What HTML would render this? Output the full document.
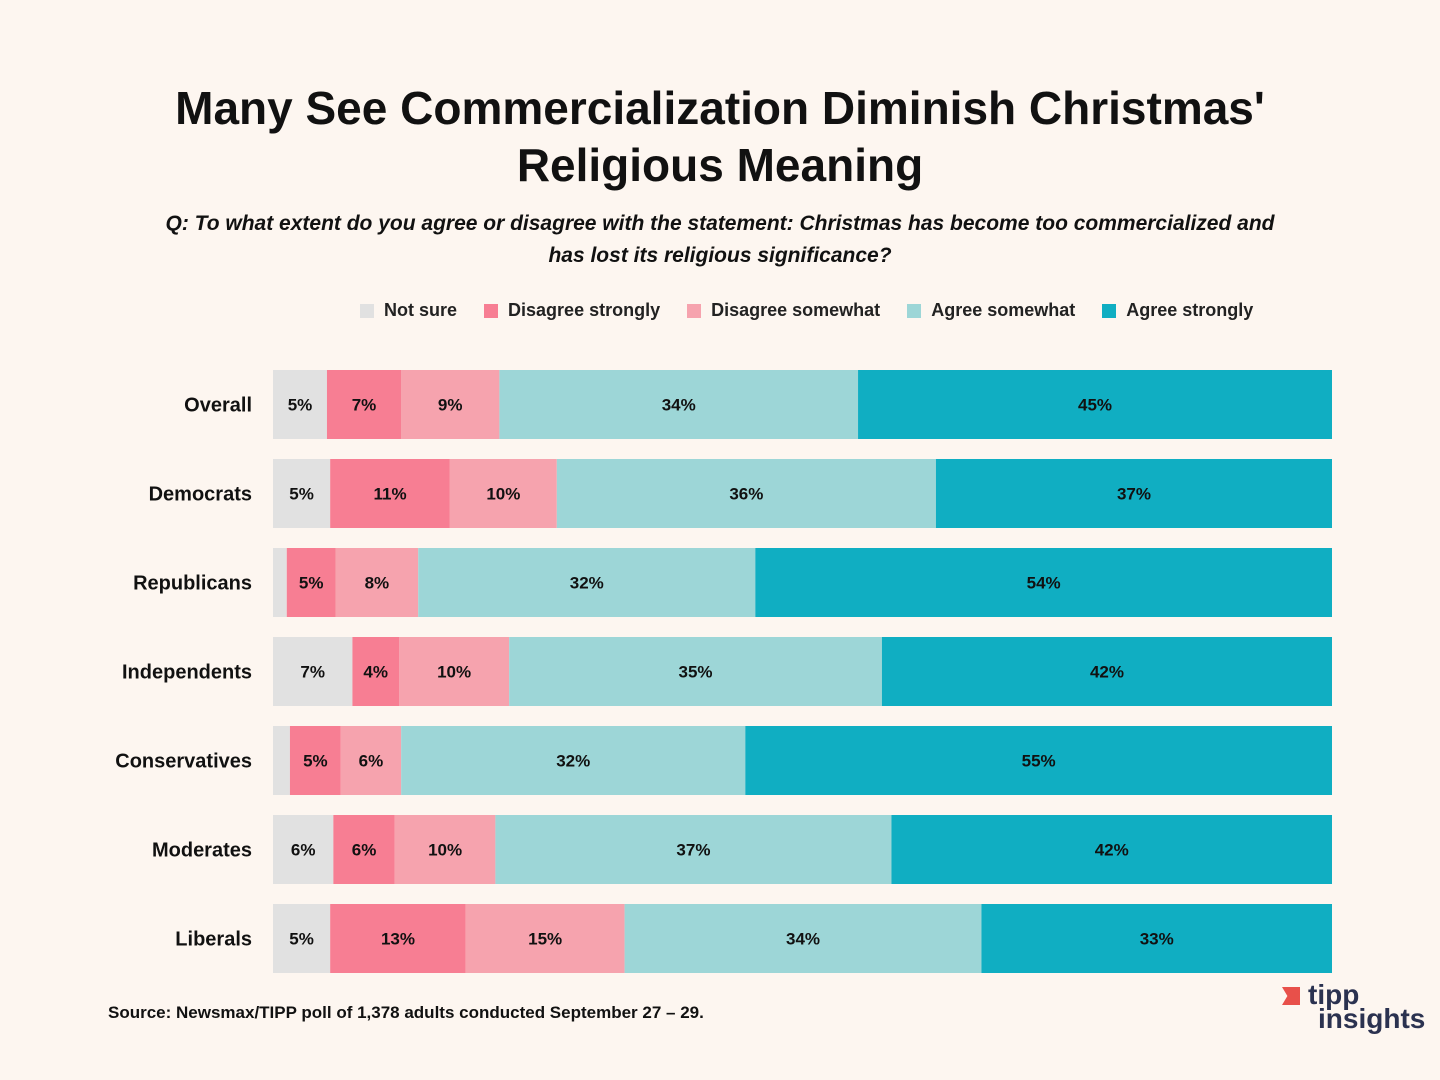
<!DOCTYPE html>
<html><head><meta charset="utf-8"><style>
body{margin:0;width:1440px;height:1080px;background:#fdf6f0;font-family:"Liberation Sans",sans-serif;overflow:hidden;position:relative}
#title{position:absolute;top:80px;left:0;width:1440px;text-align:center;font-size:46px;font-weight:bold;line-height:57px;color:#111}
#sub{position:absolute;top:208px;left:60px;width:1320px;text-align:center;font-size:21px;font-style:italic;font-weight:bold;line-height:32px;color:#111}
#legend{position:absolute;top:300px;left:360px;font-size:18px;font-weight:bold;color:#222;white-space:nowrap}
#legend span.e{margin-right:22px;display:inline-flex;align-items:center}
#legend i{display:inline-block;width:14px;height:14px;margin-right:10px}
#src{position:absolute;top:1003px;left:108px;font-size:17px;font-weight:bold;color:#111}
#logo{position:absolute;top:983px;left:1280px;font-weight:bold;color:#2b3250;line-height:24px}
</style></head><body>
<div id="title">Many See Commercialization Diminish Christmas'<br>Religious Meaning</div>
<div id="sub">Q: To what extent do you agree or disagree with the statement: Christmas has become too commercialized and<br>has lost its religious significance?</div>
<div id="legend">
<span class="e"><i style="background:#e1e1e1"></i>Not sure</span>
<span class="e"><i style="background:#f77e93"></i>Disagree strongly</span>
<span class="e"><i style="background:#f6a3ae"></i>Disagree somewhat</span>
<span class="e"><i style="background:#9dd6d7"></i>Agree somewhat</span>
<span class="e"><i style="background:#10aec2"></i>Agree strongly</span>
</div>
<svg id="chart" width="1440" height="1080" style="position:absolute;left:0;top:0"></svg>
<div id="src">Source: Newsmax/TIPP poll of 1,378 adults conducted September 27 – 29.</div>
<div id="logo">
<div style="font-size:28px;padding-left:28px;position:relative"><span style="position:absolute;left:2px;top:4px;width:18px;height:18px;background:#e8504a;clip-path:polygon(0 0,100% 0,100% 100%,0 100%,30% 50%)"></span>tipp</div>
<div style="font-size:28px;padding-left:38px">insights</div></div>
<script>
const categories=["Overall","Democrats","Republicans","Independents","Conservatives","Moderates","Liberals"];
const notSure=[5.1,5.4,1.3,7.5,1.6,5.7,5.4];
const disagreeStrongly=[7.0,11.3,4.6,4.4,4.8,5.8,12.8];
const disagreeSomewhat=[9.3,10.1,7.8,10.4,5.7,9.5,15.0];
const agreeSomewhat=[33.9,35.8,31.8,35.2,32.5,37.4,33.7];
const agreeStrongly=[44.8,37.4,54.4,42.5,55.4,41.6,33.1];
const labNotSure=["5%","5%","","7%","","6%","5%"];
const labDS=["7%","11%","5%","4%","5%","6%","13%"];
const labDW=["9%","10%","8%","10%","6%","10%","15%"];
const labAW=["34%","36%","32%","35%","32%","37%","34%"];
const labAS=["45%","37%","54%","42%","55%","42%","33%"];
const svg=document.getElementById('chart');const NS='http://www.w3.org/2000/svg';
const X0=273,W=1059,Y0=370,STEP=89,H=69;
const series=[[notSure,labNotSure,'#e1e1e1','not-sure'],[disagreeStrongly,labDS,'#f77e93','disagree-strongly'],[disagreeSomewhat,labDW,'#f6a3ae','disagree-somewhat'],[agreeSomewhat,labAW,'#9dd6d7','agree-somewhat'],[agreeStrongly,labAS,'#10aec2','agree-strongly']];
categories.forEach((c,i)=>{
 const y=Y0+i*STEP;
 const tot=series.reduce((s,se)=>s+se[0][i],0);
 const t=document.createElementNS(NS,'text');
 
 
 t.setAttribute('x',252);t.setAttribute('y',y+H/2+7);t.setAttribute('text-anchor','end');
 t.setAttribute('font-size','20');t.setAttribute('font-weight','bold');t.setAttribute('fill','#111');
 t.setAttribute('font-family','Liberation Sans, sans-serif');t.textContent=c;svg.appendChild(t);
 let x=X0;
 series.forEach(se=>{
  const w=se[0][i]/tot*W;
  const r=document.createElementNS(NS,'rect');
  
  
  r.setAttribute('x',x);r.setAttribute('y',y);r.setAttribute('width',w);r.setAttribute('height',H);r.setAttribute('fill',se[2]);
  svg.appendChild(r);
  if(se[1][i]){
   const l=document.createElementNS(NS,'text');
   
   
   l.setAttribute('x',x+w/2);l.setAttribute('y',y+H/2+6);l.setAttribute('text-anchor','middle');
   l.setAttribute('font-size','17');l.setAttribute('font-weight','bold');l.setAttribute('fill','#111');
   l.setAttribute('font-family','Liberation Sans, sans-serif');l.textContent=se[1][i];svg.appendChild(l);
  }
  x+=w;
 });
});
</script>
</body></html>
